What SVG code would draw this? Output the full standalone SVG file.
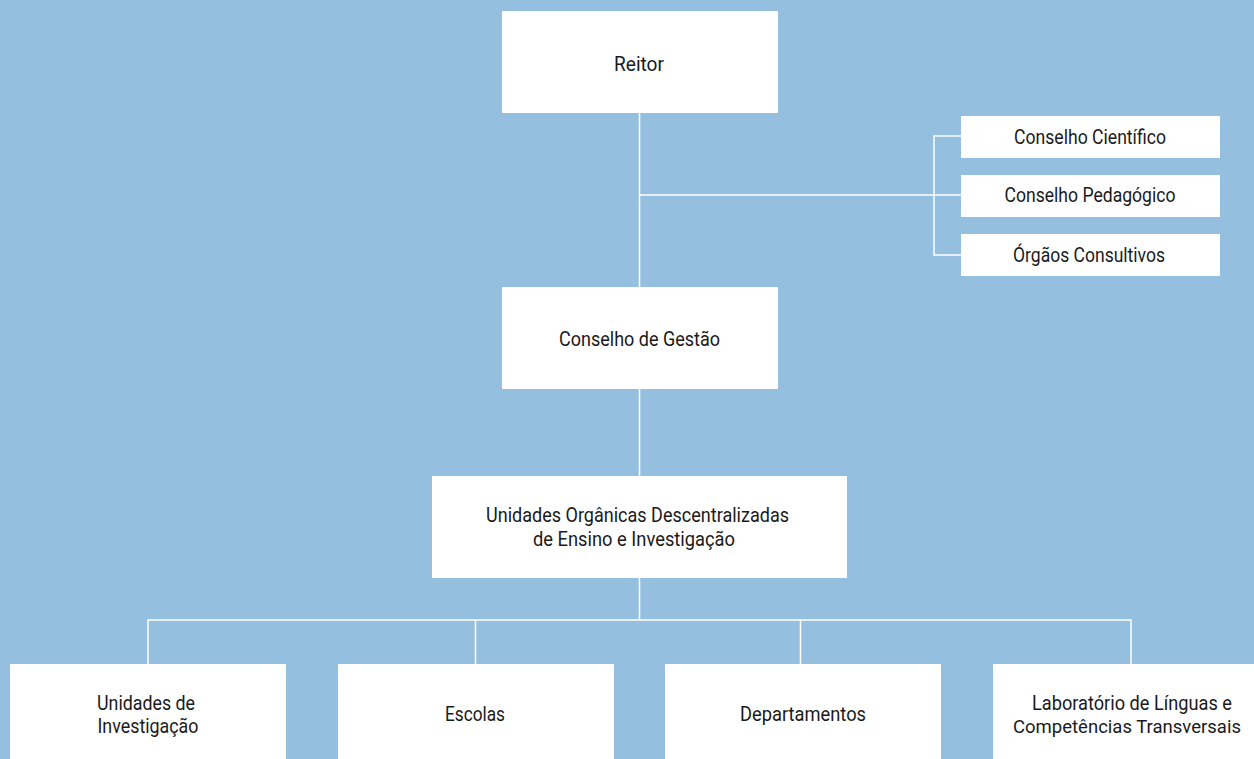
<svg xmlns="http://www.w3.org/2000/svg" width="1254" height="759" viewBox="0 0 1254 759">
<style>
.bg{fill:#94BFDE}
.box{fill:#ffffff}
.ln{stroke:#ffffff;stroke-width:1.5;fill:none}
.t{font-family:Roboto,"Liberation Sans",sans-serif;font-size:20px;fill:#1a1a1a;text-anchor:middle}
</style>
<rect class="bg" x="0" y="0" width="1254" height="759"/>
<g id="connectors">
<path class="ln" d="M639.5 113 V287 M639.5 195 H961 M961 136 H934 V255 H961 M639.5 389 V476 M639.5 578 V620 M148 664 V620 H1131 V664 M475.5 620 V664 M800.5 620 V664"/>
</g>
<g id="reitor"><rect class="box" x="502" y="11" width="276" height="102"/><text class="t" x="639" y="71" textLength="50" lengthAdjust="spacingAndGlyphs">Reitor</text></g>
<g id="conselho-cientifico"><rect class="box" x="961" y="116" width="259" height="42"/><text class="t" x="1090" y="143.5" textLength="152" lengthAdjust="spacingAndGlyphs">Conselho Científico</text></g>
<g id="conselho-pedagogico"><rect class="box" x="961" y="175" width="259" height="42"/><text class="t" x="1090" y="202" textLength="171" lengthAdjust="spacingAndGlyphs">Conselho Pedagógico</text></g>
<g id="orgaos-consultivos"><rect class="box" x="961" y="234" width="259" height="42"/><text class="t" x="1089" y="261.5" textLength="152" lengthAdjust="spacingAndGlyphs">Órgãos Consultivos</text></g>
<g id="conselho-gestao"><rect class="box" x="502" y="287" width="276" height="102"/><text class="t" x="639.5" y="346" textLength="161" lengthAdjust="spacingAndGlyphs">Conselho de Gestão</text></g>
<g id="unidades-organicas"><rect class="box" x="432" y="476" width="415" height="102"/><text class="t" x="637.5" y="522" textLength="303" lengthAdjust="spacingAndGlyphs">Unidades Orgânicas Descentralizadas</text><text class="t" x="634" y="546" textLength="202" lengthAdjust="spacingAndGlyphs">de Ensino e Investigação</text></g>
<g id="unidades-investigacao"><rect class="box" x="10" y="664" width="276" height="95"/><text class="t" x="146" y="710" textLength="98" lengthAdjust="spacingAndGlyphs">Unidades de</text><text class="t" x="148" y="733" textLength="101" lengthAdjust="spacingAndGlyphs">Investigação</text></g>
<g id="escolas"><rect class="box" x="338" y="664" width="276" height="95"/><text class="t" x="475" y="721" textLength="60" lengthAdjust="spacingAndGlyphs">Escolas</text></g>
<g id="departamentos"><rect class="box" x="665" y="664" width="276" height="95"/><text class="t" x="803" y="721" textLength="126" lengthAdjust="spacingAndGlyphs">Departamentos</text></g>
<g id="laboratorio"><rect class="box" x="993" y="664" width="261" height="95"/><text class="t" x="1132" y="710" textLength="200" lengthAdjust="spacingAndGlyphs">Laboratório de Línguas e</text><text class="t" x="1127" y="733" style="font-size:19px" textLength="228" lengthAdjust="spacingAndGlyphs">Competências Transversais</text></g>
</svg>
